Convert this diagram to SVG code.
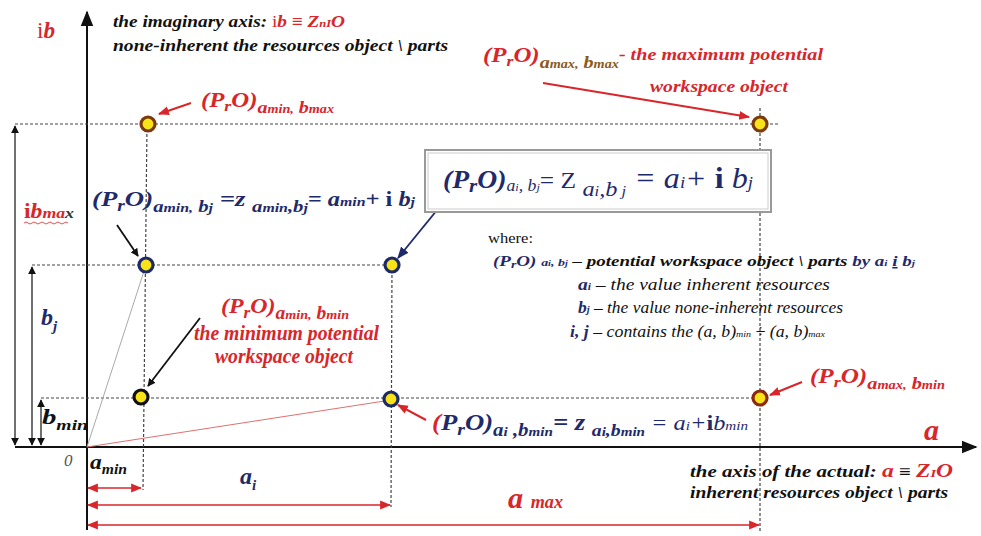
<svg xmlns="http://www.w3.org/2000/svg" width="981" height="536" viewBox="0 0 981 536" font-family="'Liberation Serif','Noto Serif','DejaVu Serif',FreeSerif,'Nimbus Roman','Times New Roman',Times,serif">
<defs>
<style>
.t{font-weight:bold;font-style:italic}
.red{fill:#d8262a}
.navy{fill:#1f2a6b}
.blk{fill:#111}
.dot{stroke:#444;stroke-width:1.2;stroke-dasharray:3 2;fill:none}
.ax{stroke:#111;stroke-width:2;fill:none}
.dim{stroke:#111;stroke-width:1.2;fill:none}
.rdim{stroke:#d8262a;stroke-width:1.3;fill:none}
.pt{fill:#f7e318;stroke-width:3.2}
</style>
<marker id="ab" viewBox="0 0 10 10" refX="9" refY="5" markerWidth="8" markerHeight="8" markerUnits="userSpaceOnUse" orient="auto-start-reverse"><path d="M0,0L10,5L0,10z" fill="#111"/></marker>
<marker id="abig" viewBox="0 0 10 10" refX="9" refY="5" markerWidth="16" markerHeight="16" markerUnits="userSpaceOnUse" orient="auto-start-reverse"><path d="M0,1L10,5L0,9z" fill="#111"/></marker>
<marker id="ar" viewBox="0 0 10 10" refX="9" refY="5" markerWidth="11" markerHeight="11" markerUnits="userSpaceOnUse" orient="auto-start-reverse"><path d="M0,1L10,5L0,9z" fill="#d8262a"/></marker>
<marker id="an" viewBox="0 0 10 10" refX="9" refY="5" markerWidth="12" markerHeight="12" markerUnits="userSpaceOnUse" orient="auto-start-reverse"><path d="M0,1L10,5L0,9z" fill="#1f2a6b"/></marker>
</defs>
<rect width="981" height="536" fill="#fff"/>

<g id="connectors">
<line class="ax" x1="87" y1="530" x2="87" y2="12" marker-end="url(#abig)"/>
<line class="ax" x1="15" y1="447" x2="976" y2="447" marker-end="url(#abig)"/>
<line class="dot" x1="15" y1="124" x2="780" y2="124"/>
<line class="dot" x1="32" y1="265" x2="392" y2="265"/>
<line class="dot" x1="41" y1="398" x2="760" y2="398"/>
<line class="dot" x1="147" y1="124" x2="143" y2="490"/>
<line class="dot" x1="392" y1="265" x2="391" y2="507"/>
<line class="dot" x1="760" y1="108" x2="760" y2="532"/>
<line x1="87" y1="447" x2="146" y2="265" stroke="#aaa" stroke-width="1"/>
<line x1="87" y1="447" x2="391" y2="400" stroke="#e07070" stroke-width="1"/>
<line class="dim" x1="15" y1="126" x2="15" y2="445" marker-start="url(#ab)" marker-end="url(#ab)"/>
<line class="dim" x1="32" y1="267" x2="32" y2="445" marker-start="url(#ab)" marker-end="url(#ab)"/>
<line class="dim" x1="41" y1="400" x2="41" y2="445" marker-start="url(#ab)" marker-end="url(#ab)"/>
<line class="rdim" x1="88" y1="488" x2="141" y2="488" marker-start="url(#ar)" marker-end="url(#ar)"/>
<line class="rdim" x1="88" y1="505" x2="390" y2="505" marker-start="url(#ar)" marker-end="url(#ar)"/>
<line class="rdim" x1="88" y1="525" x2="759" y2="525" marker-start="url(#ar)" marker-end="url(#ar)"/>
<line x1="191" y1="103" x2="159" y2="114" stroke="#d8262a" stroke-width="2" marker-end="url(#ar)"/>
<line x1="543" y1="83" x2="749" y2="117" stroke="#d8262a" stroke-width="2" marker-end="url(#ar)"/>
<line x1="117" y1="225" x2="138" y2="256" stroke="#111" stroke-width="1.8" marker-end="url(#ab)"/>
<line x1="446" y1="199" x2="398" y2="258" stroke="#1f2a6b" stroke-width="1.8" marker-end="url(#an)"/>
<line x1="200" y1="318" x2="148" y2="386" stroke="#111" stroke-width="1.8" marker-end="url(#ab)"/>
<line x1="802" y1="382" x2="770" y2="395" stroke="#d8262a" stroke-width="2" marker-end="url(#ar)"/>
<line x1="426" y1="420" x2="398" y2="405" stroke="#d8262a" stroke-width="2" marker-end="url(#ar)"/>
</g>

<g id="points">
<circle id="p-amin-bmax" class="pt" cx="148" cy="124" r="7" stroke="#7a3a0c"/>
<circle id="p-amax-bmax" class="pt" cx="760" cy="124" r="7" stroke="#7a3a0c"/>
<circle id="p-amin-bj" class="pt" cx="146" cy="265" r="7" stroke="#1c2a66"/>
<circle id="p-ai-bj" class="pt" cx="392" cy="265" r="7" stroke="#1c2a66"/>
<circle id="p-amin-bmin" class="pt" cx="141" cy="397" r="7" stroke="#111"/>
<circle id="p-ai-bmin" class="pt" cx="391" cy="399" r="7" stroke="#1c2a66"/>
<circle id="p-amax-bmin" class="pt" cx="760" cy="398" r="7" stroke="#8a2a10"/>
</g>

<g id="axis-labels">
<text class="t red" x="37" y="38" font-size="24" textLength="18" lengthAdjust="spacingAndGlyphs"><tspan font-style="normal" font-weight="normal">i</tspan>b</text>
<text class="t blk" x="113" y="27" font-size="17" textLength="232" lengthAdjust="spacingAndGlyphs">the imaginary axis: <tspan class="red"><tspan font-style="normal" font-weight="normal">i</tspan>b ≡ Z<tspan font-size="11">nI</tspan>O</tspan></text>
<text class="t blk" x="113" y="51" font-size="17" textLength="335" lengthAdjust="spacingAndGlyphs">none-inherent the resources object \ parts</text>
<text class="t red" x="924" y="440" font-size="30" font-weight="normal">a</text>
<text x="64" y="466" font-size="17" font-style="italic" fill="#555">0</text>
<text class="t blk" x="690" y="477" font-size="16" textLength="263" lengthAdjust="spacingAndGlyphs">the axis of the actual:  <tspan class="red" font-size="18">a</tspan> ≡ <tspan class="red" font-size="18">Z<tspan font-size="11">I</tspan>O</tspan></text>
<text class="t blk" x="690" y="498" font-size="16" textLength="258" lengthAdjust="spacingAndGlyphs">inherent resources object \ parts</text>
</g>

<g id="dimension-labels">
<text class="t red" x="24" y="218" font-size="20" textLength="50" lengthAdjust="spacingAndGlyphs"><tspan font-style="normal">i</tspan>b<tspan font-size="15">ma</tspan><tspan fill="#333" font-size="15">x</tspan></text>
<path d="M24,223 q2,-2 4,0 t4,0 t4,0 t4,0 t4,0 t4,0 t4,0 t4,0 t4,0 t4,0 t4,0" stroke="#d8262a" stroke-width="0.8" fill="none"/>
<text class="t navy" x="41" y="325" font-size="24">b<tspan font-size="15" dy="6">j</tspan></text>
<text class="t blk" x="42" y="424" font-size="22" textLength="46" lengthAdjust="spacingAndGlyphs">b<tspan font-size="15" dy="6">min</tspan></text>
<text class="t blk" x="90" y="469" font-size="21" textLength="37" lengthAdjust="spacingAndGlyphs">a<tspan font-size="14" dy="5">min</tspan></text>
<text class="t navy" x="240" y="484" font-size="24">a<tspan font-size="15" dy="6">i</tspan></text>
<text class="t red" x="508" y="508" font-size="30" font-weight="normal" textLength="55" lengthAdjust="spacingAndGlyphs">a <tspan font-size="18" font-weight="bold">max</tspan></text>
</g>

<g id="label-amin-bmax">
<text class="t red" x="201" y="107" font-size="21" textLength="133" lengthAdjust="spacingAndGlyphs">(P<tspan font-size="15" dy="4">r</tspan><tspan dy="-4">O)</tspan><tspan font-size="17" dy="6">a<tspan font-size="12">min,</tspan> b<tspan font-size="12">max</tspan></tspan></text>
</g>

<g id="label-amax-bmax">
<text class="t red" x="483" y="62" font-size="21" textLength="340" lengthAdjust="spacingAndGlyphs">(P<tspan font-size="15" dy="4">r</tspan><tspan dy="-4">O)</tspan><tspan font-size="17" dy="6" fill="#8a5a20">a<tspan font-size="12">max,</tspan> b<tspan font-size="12">max</tspan></tspan><tspan dy="-8" font-size="17">-  the maximum potential</tspan></text>
<text class="t red" x="650" y="92" font-size="17" textLength="138" lengthAdjust="spacingAndGlyphs">workspace object</text>
</g>

<g id="label-amin-bj">
<text class="t navy" x="92" y="206" font-size="22" textLength="323" lengthAdjust="spacingAndGlyphs">(P<tspan font-size="16" dy="5">r</tspan><tspan dy="-5">O)</tspan><tspan dy="6" font-size="17">a<tspan font-size="13">min,</tspan> b<tspan font-size="13">j</tspan></tspan><tspan dy="-6"> =z </tspan><tspan dy="6" font-size="17">a<tspan font-size="13">min</tspan>,b<tspan font-size="13">j</tspan></tspan><tspan dy="-6" font-size="20">= a<tspan font-size="13">min</tspan>+ <tspan font-style="normal">i</tspan> b<tspan font-size="13">j</tspan></tspan></text>
</g>

<g id="main-formula">
<rect x="425" y="150" width="346" height="62" fill="#fff" stroke="#999" stroke-width="2"/>
<rect x="428" y="153" width="340" height="56" fill="none" stroke="#ccc" stroke-width="1"/>
<text class="t navy" x="443" y="188" font-size="25" textLength="310" lengthAdjust="spacingAndGlyphs">(P<tspan font-size="19" dy="4">r</tspan><tspan dy="-4">O)</tspan><tspan font-size="16" font-weight="normal" dy="3">a<tspan font-size="11">i</tspan>, b<tspan font-size="11">j</tspan></tspan><tspan dy="-3" font-weight="normal" font-style="normal" font-size="23">= Z </tspan><tspan dy="8" font-size="22" font-weight="normal">a<tspan font-size="15">i</tspan>,b<tspan font-size="15"> j</tspan></tspan><tspan dy="-8" font-weight="normal" font-size="29"> = a<tspan font-size="17">i</tspan>+ <tspan font-style="normal" font-weight="bold">i</tspan> b<tspan font-size="17">j</tspan></tspan></text>
</g>

<g id="legend">
<text class="blk" x="488" y="243" font-size="15" textLength="45" lengthAdjust="spacingAndGlyphs">where:</text>
<text class="t blk" x="493" y="266" font-size="15" textLength="422" lengthAdjust="spacingAndGlyphs"><tspan class="navy">(P<tspan font-size="11" dy="2">r</tspan><tspan dy="-2">O)</tspan> <tspan font-size="11">a<tspan font-size="8">i</tspan>, b<tspan font-size="8">j</tspan></tspan></tspan> – potential workspace object \ parts <tspan class="navy">by a<tspan font-size="9">i</tspan> <tspan text-decoration="underline">i</tspan> b<tspan font-size="9">j</tspan></tspan></text>
<text class="blk" x="578" y="290" font-size="17" font-style="italic" textLength="252" lengthAdjust="spacingAndGlyphs"><tspan class="navy" font-weight="bold">a<tspan font-size="10">i</tspan></tspan> – the value inherent resources</text>
<text class="blk" x="578" y="313" font-size="17" font-style="italic" textLength="265" lengthAdjust="spacingAndGlyphs"><tspan class="navy" font-weight="bold">b<tspan font-size="10">j</tspan></tspan> – the value none-inherent resources</text>
<text class="blk" x="570" y="337" font-size="16" font-style="italic" textLength="255" lengthAdjust="spacingAndGlyphs"><tspan class="navy" font-weight="bold">i, j</tspan> – contains the (a, b)<tspan font-size="9">min</tspan> ÷ (a, b)<tspan font-size="9">max</tspan></text>
</g>

<g id="label-amin-bmin">
<text class="t red" x="221" y="313" font-size="22" textLength="128" lengthAdjust="spacingAndGlyphs">(P<tspan font-size="16" dy="5">r</tspan><tspan dy="-5">O)</tspan><tspan font-size="18" dy="6">a<tspan font-size="13">min,</tspan> b<tspan font-size="13">min</tspan></tspan></text>
<text class="t red" x="194" y="340" font-size="20" textLength="185" lengthAdjust="spacingAndGlyphs">the minimum potential</text>
<text class="t red" x="215" y="363" font-size="20" textLength="138" lengthAdjust="spacingAndGlyphs">workspace object</text>
</g>

<g id="label-amax-bmin">
<text class="t red" x="810" y="383" font-size="21" textLength="135" lengthAdjust="spacingAndGlyphs">(P<tspan font-size="15" dy="4">r</tspan><tspan dy="-4">O)</tspan><tspan font-size="17" dy="6">a<tspan font-size="12">max,</tspan> b<tspan font-size="12">min</tspan></tspan></text>
</g>

<g id="label-ai-bmin">
<text class="t navy" x="432" y="430" font-size="23" textLength="316" lengthAdjust="spacingAndGlyphs"><tspan class="red">(</tspan>P<tspan font-size="17" dy="5">r</tspan><tspan dy="-5">O)</tspan><tspan font-size="18" dy="6">a<tspan font-size="13">i</tspan> ,b<tspan font-size="13">min</tspan></tspan><tspan dy="-6">= z </tspan><tspan font-size="17" dy="6">a<tspan font-size="13">i</tspan>,b<tspan font-size="13">min</tspan></tspan><tspan dy="-6" font-size="21" font-weight="normal"> = a<tspan font-size="13">i</tspan>+<tspan font-style="normal" font-weight="bold">i</tspan>b<tspan font-size="13">min</tspan></tspan></text>
</g>
</svg>
